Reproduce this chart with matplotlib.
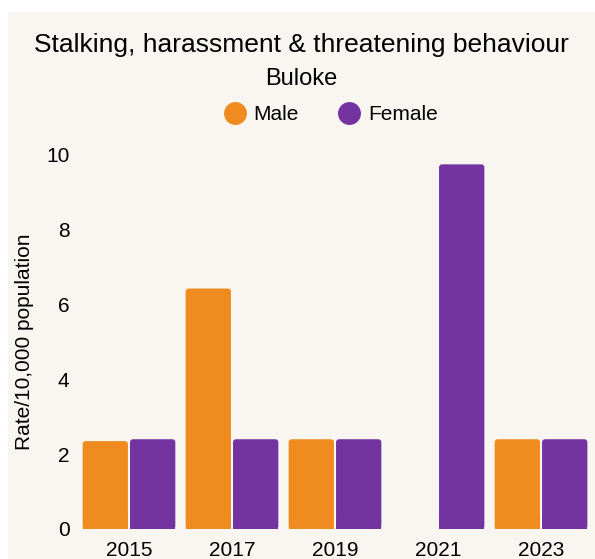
import matplotlib
matplotlib.use("Agg")
import matplotlib.pyplot as plt
from matplotlib.patches import Rectangle, FancyBboxPatch
from matplotlib.lines import Line2D
import numpy as np

years = ["2015", "2017", "2019", "2021", "2023"]
male = [2.35, 6.43, 2.40, 0.0, 2.40]
female = [2.40, 2.40, 2.40, 9.75, 2.40]

title = "Stalking, harassment & threatening behaviour"
subtitle = "Buloke"
ylabel = "Rate/10,000 population"

BG = "#f9f6f2"
ORANGE = "#f08c1f"
PURPLE = "#7333a0"

plt.rcParams["font.family"] = ["Liberation Sans", "DejaVu Sans"]

W, H = 595, 559
fig = plt.figure(figsize=(W / 100, H / 100), dpi=100, facecolor="white")

# panel background behind everything
bg_ax = fig.add_axes([8 / W, 0, 1 - 8 / W, 1 - 12 / H], zorder=0)
bg_ax.set_facecolor(BG)
bg_ax.set_xticks([])
bg_ax.set_yticks([])
for s in bg_ax.spines.values():
    s.set_visible(False)

ax = fig.add_axes([75 / W, 30 / H, 520 / W, (529 - 155) / H], zorder=1)
ax.patch.set_alpha(0)

x = np.arange(len(years))
bw = 0.44
off = 0.23
px_x = 1 / 103.0
px_y = 1 / 37.4


def rounded_bars(xs, vals, color):
    for xi, v in zip(xs, vals):
        if v <= 0:
            continue
        ax.add_patch(FancyBboxPatch((xi - bw / 2, 0), bw, v,
                                    boxstyle=f"round,pad=0,rounding_size={3 * px_x}",
                                    mutation_aspect=px_y / px_x,
                                    facecolor=color, edgecolor="none", zorder=2))
        ax.add_patch(Rectangle((xi - bw / 2, 0), bw, min(v, 0.3),
                               facecolor=color, edgecolor="none", zorder=2))


rounded_bars(x - off, male, ORANGE)
rounded_bars(x + off, female, PURPLE)

ax.set_xlim(-0.524, 4.524)
ax.set_ylim(0, 10)
ax.set_xticks(x)
ax.set_xticklabels(years, fontsize=15)
ax.set_yticks([0, 2, 4, 6, 8, 10])
ax.tick_params(axis="y", labelsize=15, length=0, pad=4)
ax.tick_params(axis="x", length=0, pad=9)
for s in ax.spines.values():
    s.set_visible(False)
ax.set_ylabel(ylabel, fontsize=15)
ax.yaxis.set_label_coords(-0.079, 0.5)

fig.text(0.5 + 4 / W, 1 - 45 / H, title, ha="center", va="center", fontsize=19)
fig.text(0.5 + 4 / W, 1 - 79 / H, subtitle, ha="center", va="center", fontsize=17)

handles = [Line2D([], [], marker="o", linestyle="none", markersize=16.5,
                  markerfacecolor=ORANGE, markeredgecolor="none", label="Male"),
           Line2D([], [], marker="o", linestyle="none", markersize=16.5,
                  markerfacecolor=PURPLE, markeredgecolor="none", label="Female")]
fig.legend(handles=handles, loc="center", bbox_to_anchor=(330 / W, 1 - 115 / H),
           ncol=2, frameon=False, fontsize=15, handletextpad=0.3,
           columnspacing=1.8, handlelength=1.2)

fig.savefig("out.png", dpi=100, facecolor="white")
